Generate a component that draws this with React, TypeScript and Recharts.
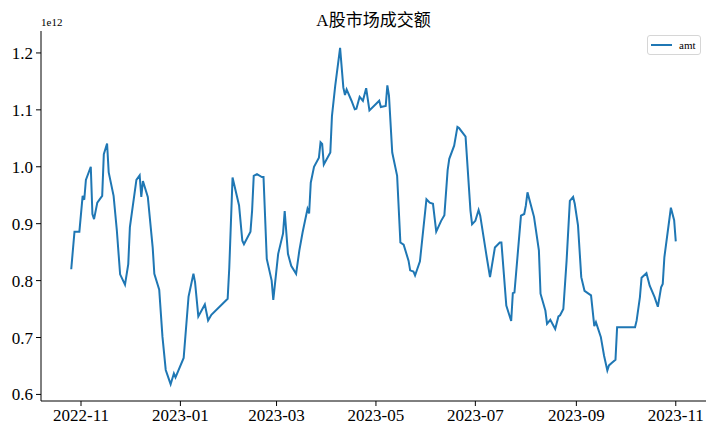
import React from "react";
import { LineChart, Line, XAxis, YAxis } from "recharts";

// trading days (vertices of the line)
const dates = [
  "2022-10-26", "2022-10-28", "2022-10-31", "2022-11-02", "2022-11-03", "2022-11-04", "2022-11-07",
  "2022-11-08", "2022-11-09", "2022-11-11", "2022-11-14", "2022-11-15", "2022-11-17", "2022-11-18",
  "2022-11-21", "2022-11-23", "2022-11-25", "2022-11-28", "2022-11-30", "2022-12-01", "2022-12-05",
  "2022-12-07", "2022-12-08", "2022-12-09", "2022-12-12", "2022-12-15", "2022-12-16", "2022-12-19",
  "2022-12-21", "2022-12-23", "2022-12-26", "2022-12-28", "2022-12-29", "2023-01-03", "2023-01-06",
  "2023-01-09", "2023-01-10", "2023-01-12", "2023-01-16", "2023-01-18", "2023-01-20", "2023-01-30",
  "2023-01-31", "2023-02-02", "2023-02-06", "2023-02-08", "2023-02-09", "2023-02-13", "2023-02-14",
  "2023-02-15", "2023-02-17", "2023-02-20", "2023-02-21", "2023-02-23", "2023-02-26", "2023-02-27",
  "2023-03-02", "2023-03-05", "2023-03-06", "2023-03-08", "2023-03-10", "2023-03-13", "2023-03-15",
  "2023-03-17", "2023-03-20", "2023-03-21", "2023-03-22", "2023-03-24", "2023-03-27", "2023-03-28",
  "2023-03-29", "2023-03-30", "2023-04-03", "2023-04-04", "2023-04-06", "2023-04-09", "2023-04-11",
  "2023-04-12", "2023-04-13", "2023-04-16", "2023-04-18", "2023-04-19", "2023-04-21", "2023-04-23",
  "2023-04-25", "2023-04-27", "2023-05-03", "2023-05-04", "2023-05-07", "2023-05-08", "2023-05-09",
  "2023-05-11", "2023-05-14", "2023-05-16", "2023-05-18", "2023-05-21", "2023-05-22", "2023-05-24",
  "2023-05-25", "2023-05-28", "2023-06-01", "2023-06-03", "2023-06-05", "2023-06-07", "2023-06-10",
  "2023-06-12", "2023-06-14", "2023-06-15", "2023-06-18", "2023-06-20", "2023-06-21", "2023-06-25",
  "2023-06-28", "2023-06-29", "2023-07-01", "2023-07-03", "2023-07-04", "2023-07-08", "2023-07-10",
  "2023-07-13", "2023-07-16", "2023-07-17", "2023-07-20", "2023-07-23", "2023-07-24", "2023-07-25",
  "2023-07-29", "2023-07-31", "2023-08-01", "2023-08-02", "2023-08-06", "2023-08-09", "2023-08-10",
  "2023-08-13", "2023-08-14", "2023-08-16", "2023-08-19", "2023-08-21", "2023-08-22", "2023-08-24",
  "2023-08-26", "2023-08-28", "2023-08-30", "2023-08-31", "2023-09-02", "2023-09-04", "2023-09-06",
  "2023-09-10", "2023-09-12", "2023-09-13", "2023-09-16", "2023-09-18", "2023-09-20", "2023-09-21",
  "2023-09-23", "2023-09-25", "2023-09-26", "2023-10-07", "2023-10-08", "2023-10-10", "2023-10-11",
  "2023-10-14", "2023-10-16", "2023-10-19", "2023-10-21", "2023-10-23", "2023-10-24", "2023-10-25",
  "2023-10-29", "2023-10-31", "2023-11-01",
];

// turnover, in units of 1e12
const amt = [
  0.820, 0.886, 0.886, 0.949, 0.942, 0.977, 1.000,
  0.917, 0.908, 0.937, 0.949, 1.022, 1.041, 0.990,
  0.949, 0.888, 0.811, 0.793, 0.829, 0.894, 0.977,
  0.985, 0.947, 0.975, 0.947, 0.858, 0.812, 0.784,
  0.701, 0.643, 0.618, 0.637, 0.630, 0.664, 0.772,
  0.812, 0.797, 0.737, 0.758, 0.730, 0.740, 0.768,
  0.823, 0.981, 0.932, 0.870, 0.864, 0.886, 0.923,
  0.984, 0.987, 0.982, 0.982, 0.838, 0.800, 0.766,
  0.847, 0.883, 0.922, 0.847, 0.826, 0.812, 0.853,
  0.885, 0.926, 0.918, 0.972, 1.000, 1.016, 1.043,
  1.040, 1.004, 1.025, 1.089, 1.142, 1.209, 1.139,
  1.126, 1.136, 1.116, 1.101, 1.102, 1.123, 1.116,
  1.138, 1.099, 1.116, 1.105, 1.107, 1.143, 1.125,
  1.025, 0.984, 0.867, 0.863, 0.835, 0.818, 0.816,
  0.809, 0.834, 0.943, 0.937, 0.935, 0.886, 0.905,
  0.915, 0.994, 1.014, 1.037, 1.070, 1.068, 1.053,
  0.923, 0.899, 0.905, 0.924, 0.914, 0.841, 0.806,
  0.858, 0.867, 0.867, 0.756, 0.729, 0.778, 0.779,
  0.914, 0.917, 0.932, 0.955, 0.912, 0.853, 0.777,
  0.747, 0.724, 0.731, 0.715, 0.737, 0.739, 0.750,
  0.835, 0.940, 0.947, 0.935, 0.897, 0.806, 0.782,
  0.774, 0.720, 0.727, 0.701, 0.668, 0.642, 0.651,
  0.656, 0.661, 0.718, 0.718, 0.730, 0.771, 0.805,
  0.813, 0.791, 0.771, 0.754, 0.788, 0.794, 0.841,
  0.928, 0.906, 0.869,
];

const xTicks = ["2022-11-01", "2023-01-01", "2023-03-01", "2023-05-01", "2023-07-01", "2023-09-01", "2023-11-01"];
const yTicks = [0.6, 0.7, 0.8, 0.9, 1.0, 1.1, 1.2];

const data = dates.map((d, i) => ({ t: Date.parse(d), amt: amt[i] }));

// matplotlib-like 5% margins
const tMin = data[0].t;
const tMax = data[data.length - 1].t;
const tPad = (tMax - tMin) * 0.05;
const vMin = Math.min(...amt);
const vMax = Math.max(...amt);
const vPad = (vMax - vMin) * 0.05;

const FONT = '"Liberation Serif", "DejaVu Serif", "Noto Sans CJK SC", serif';

const fmtMonth = (t: number) => {
  const d = new Date(t);
  return `${d.getUTCFullYear()}-${String(d.getUTCMonth() + 1).padStart(2, "0")}`;
};

export default function App() {
  return (
    <div style={{ position: "absolute", left: 0, top: 0, width: 720, height: 432, background: "#fff", fontFamily: FONT }}>
      {/* title centred over the plot area (x 41..706) */}
      <div style={{ position: "absolute", left: 41, width: 665, top: 6, textAlign: "center", fontSize: 17, color: "#000" }}>
        A股市场成交额
      </div>
      <div style={{ position: "absolute", left: 41, top: 16, fontSize: 11, color: "#000" }}>1e12</div>
      <LineChart width={720} height={432} data={data} margin={{ top: 31, right: 14, left: 0, bottom: 0 }}>
        <XAxis
          dataKey="t"
          type="number"
          domain={[tMin - tPad, tMax + tPad]}
          ticks={xTicks.map((d) => Date.parse(d))}
          tickFormatter={fmtMonth}
          height={31}
          tickSize={5}
          tickMargin={3}
          stroke="#000"
          tick={{ fill: "#000", fontSize: 17, fontFamily: FONT }}
          allowDataOverflow
        />
        <YAxis
          type="number"
          domain={[vMin - vPad, vMax + vPad]}
          ticks={yTicks}
          tickFormatter={(v: number) => v.toFixed(1)}
          width={41}
          tickSize={5}
          tickMargin={3}
          stroke="#000"
          tick={{ fill: "#000", fontSize: 17, fontFamily: FONT }}
          allowDataOverflow
        />
        <Line
          type="linear"
          dataKey="amt"
          stroke="#1f77b4"
          strokeWidth={2}
          dot={false}
          isAnimationActive={false}
        />
      </LineChart>
      <div
        style={{
          position: "absolute",
          left: 647,
          top: 35,
          width: 54,
          height: 20,
          border: "1px solid #d6d6d6",
          borderRadius: 3,
          boxSizing: "border-box",
          display: "flex",
          alignItems: "center",
          fontSize: 11,
        }}
      >
        <span style={{ display: "inline-block", width: 21, height: 2, background: "#1f77b4", marginLeft: 3, marginRight: 7 }} />
        <span>amt</span>
      </div>
    </div>
  );
}
